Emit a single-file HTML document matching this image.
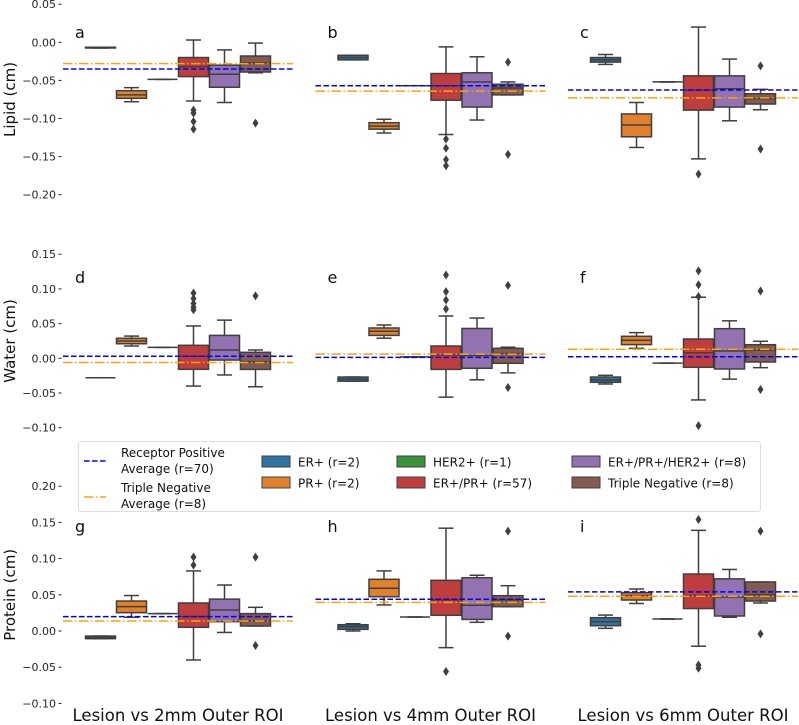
<!DOCTYPE html>
<html><head><meta charset="utf-8"><style>
html,body{margin:0;padding:0;background:#fff;}
svg{display:block;font-family:"DejaVu Sans","Liberation Sans",sans-serif;}
</style></head><body>
<svg id="chart" width="799" height="725" viewBox="0 0 799 725" xmlns="http://www.w3.org/2000/svg"></svg>
<script>
// ---- data ----
const groups = ["Lesion vs 2mm Outer ROI","Lesion vs 4mm Outer ROI","Lesion vs 6mm Outer ROI"];
const hues = ["ER+ (r=2)","PR+ (r=2)","HER2+ (r=1)","ER+/PR+ (r=57)","ER+/PR+/HER2+ (r=8)","Triple Negative (r=8)"];
const hueColors = ["#3274a1","#e1812c","#3a923a","#c03d3e","#9372b2","#845b53"];
const rowTitles = ["Lipid (cm)","Water (cm)","Protein (cm)"];
const panelLetters = [["a","b","c"],["d","e","f"],["g","h","i"]];
const lipidTicks = [0.05,0.00,-0.05,-0.10,-0.15,-0.20];
const waterTicks = [0.15,0.10,0.05,0.00,-0.05,-0.10];
const proteinTicks = [0.20,0.15,0.10,0.05,0.00,-0.05,-0.10];
// each box: [lowWhisker, q1, median, q3, highWhisker]
const statsA = [[-0.0075,-0.0075,-0.007,-0.0065,-0.0065],[-0.078,-0.0735,-0.069,-0.0635,-0.0595],[-0.0486,-0.0486,-0.0486,-0.0486,-0.0486],[-0.077,-0.045,-0.032,-0.020,0.003],[-0.079,-0.059,-0.042,-0.030,-0.010],[-0.040,-0.039,-0.027,-0.018,-0.001]];
const statsB = [[-0.023,-0.023,-0.020,-0.017,-0.017],[-0.119,-0.114,-0.110,-0.1055,-0.101],[-0.057,-0.057,-0.057,-0.057,-0.057],[-0.121,-0.076,-0.057,-0.041,-0.006],[-0.102,-0.085,-0.052,-0.040,-0.019],[-0.069,-0.069,-0.060,-0.055,-0.052]];
const statsC = [[-0.029,-0.026,-0.023,-0.020,-0.016],[-0.138,-0.124,-0.1085,-0.094,-0.079],[-0.052,-0.052,-0.052,-0.052,-0.052],[-0.153,-0.089,-0.0626,-0.044,0.020],[-0.103,-0.085,-0.061,-0.044,-0.022],[-0.0885,-0.081,-0.074,-0.0675,-0.0617]];
const statsD = [[-0.028,-0.028,-0.028,-0.028,-0.028],[0.0177,0.021,0.025,0.0288,0.032],[0.0158,0.0158,0.0158,0.0158,0.0158],[-0.040,-0.0159,0.003,0.0187,0.0466],[-0.024,-0.0025,0.012,0.033,0.055],[-0.041,-0.016,-0.005,0.0086,0.012]];
const statsE = [[-0.033,-0.033,-0.030,-0.027,-0.027],[0.029,0.033,0.039,0.0437,0.048],[0.002,0.002,0.002,0.002,0.002],[-0.056,-0.016,0.005,0.0177,0.061],[-0.031,-0.0144,0.004,0.043,0.058],[-0.021,-0.0072,0.007,0.0144,0.016]];
const statsF = [[-0.037,-0.0346,-0.031,-0.027,-0.0245],[0.0144,0.0197,0.026,0.0317,0.037],[-0.007,-0.007,-0.007,-0.007,-0.007],[-0.060,-0.013,0.008,0.0278,0.088],[-0.030,-0.0154,0.0105,0.0427,0.054],[-0.0135,-0.0053,0.012,0.0196,0.0245]];
const statsG = [[-0.0106,-0.0106,-0.009,-0.007,-0.007],[0.019,0.0253,0.0336,0.0414,0.049],[0.024,0.024,0.024,0.024,0.024],[-0.040,0.0051,0.020,0.0387,0.083],[-0.002,0.0129,0.029,0.044,0.0635],[0.0069,0.0069,0.014,0.024,0.0327]];
const statsH = [[0.0,0.0023,0.006,0.0087,0.010],[0.036,0.0474,0.059,0.0714,0.083],[0.0193,0.0193,0.0193,0.0193,0.0193],[-0.023,0.0217,0.043,0.070,0.142],[0.012,0.016,0.0355,0.0736,0.077],[0.0336,0.0336,0.043,0.0488,0.0626]];
const statsI = [[0.0037,0.0073,0.0129,0.0184,0.022],[0.038,0.0428,0.049,0.053,0.058],[0.0166,0.0166,0.0166,0.0166,0.0166],[-0.021,0.031,0.049,0.0787,0.139],[0.019,0.0207,0.047,0.072,0.085],[0.0387,0.0414,0.050,0.0677,0.0677]];
const outA = [[],[],[],[-0.089,-0.093,-0.104,-0.114],[],[-0.106]];
const outB = [[],[],[],[-0.127,-0.139,-0.154,-0.162],[],[-0.026,-0.147]];
const outC = [[],[],[],[-0.173],[],[-0.031,-0.140]];
const outD = [[],[],[],[0.094,0.086,0.079,0.074,0.070],[],[0.090]];
const outE = [[],[],[],[0.120,0.096,0.084,0.071],[],[0.105,-0.042]];
const outF = [[],[],[],[0.126,0.106,0.089,-0.097],[],[0.097,-0.045]];
const outG = [[],[],[],[0.102,0.091],[],[0.102,-0.020]];
const outH = [[],[],[],[-0.056],[],[0.138,-0.007]];
const outI = [[],[],[],[0.154,-0.047,-0.0515],[],[0.138,-0.004]];
const rpAvg = [[-0.035,-0.057,-0.0626],[0.003,0.0014,0.0023],[0.0198,0.0438,0.054]];
const tnAvg = [[-0.028,-0.064,-0.073],[-0.006,0.006,0.013],[0.0138,0.0396,0.048]];

// ---- layout ----
const rowStats = [[statsA,statsB,statsC],[statsD,statsE,statsF],[statsG,statsH,statsI]];
const rowOut = [[outA,outB,outC],[outD,outE,outF],[outG,outH,outI]];
const rowTicks = [lipidTicks,waterTicks,proteinTicks];
const rowY = [{zero:42.3,k:762},{zero:358.3,k:694},{zero:631,k:724}];
const letterBaseline = [38,283,532];
function yScale(r,v){return rowY[r].zero - v*rowY[r].k;}
function groupX(g){return 178 + g*252.5;}
function hueX(g,h){return groupX(g) + (h-2.5)*31;}
const BW = 30, LINE="#3f3f3f";
const svg = document.getElementById('chart');
const NS="http://www.w3.org/2000/svg";
function mk(tag,attrs,parent){const e=document.createElementNS(NS,tag);for(const k in attrs)e.setAttribute(k,attrs[k]);(parent||svg).appendChild(e);return e;}

for(let r=0;r<3;r++){
  const row = mk('g',{});
  
  
  rowTicks[r].forEach(t=>{
    const y=yScale(r,t);
    const tx=mk('text',{x:56,y:y+4,'text-anchor':'end','font-size':11,fill:'#262626'},row);
    tx.textContent=(t<0?'\u2212':'')+Math.abs(t).toFixed(2);
    
    
    mk('line',{x1:58.5,x2:61.5,y1:y,y2:y,stroke:'#262626','stroke-width':1},row);
  });
  const ticks=rowTicks[r];
  const midY=(yScale(r,ticks[0])+yScale(r,ticks[ticks.length-1]))/2;
  const yt=mk('text',{x:0,y:0,transform:`translate(15,${midY}) rotate(-90)`,'text-anchor':'middle','font-size':15,fill:'#111'},row);
  yt.textContent=rowTitles[r];
  
  
  for(let g=0;g<3;g++){
    const panel=mk('g',{},row);
    
    
    const lt=mk('text',{x:groupX(g)-103,y:letterBaseline[r],'font-size':16,fill:'#111'},panel);
    lt.textContent=panelLetters[r][g];
    
    
    const st=rowStats[r][g], ou=rowOut[r][g];
    for(let h=0;h<6;h++){
      const [lo,q1,md,q3,hi]=st[h];
      const cx=hueX(g,h);
      const bx=mk('g',{},panel);
      
      
      mk('line',{x1:cx,x2:cx,y1:yScale(r,hi),y2:yScale(r,q3),stroke:LINE,'stroke-width':1.5},bx);
      mk('line',{x1:cx,x2:cx,y1:yScale(r,q1),y2:yScale(r,lo),stroke:LINE,'stroke-width':1.5},bx);
      mk('line',{x1:cx-7.5,x2:cx+7.5,y1:yScale(r,hi),y2:yScale(r,hi),stroke:LINE,'stroke-width':1.5},bx);
      mk('line',{x1:cx-7.5,x2:cx+7.5,y1:yScale(r,lo),y2:yScale(r,lo),stroke:LINE,'stroke-width':1.5},bx);
      const yt3=yScale(r,q3), yb=yScale(r,q1);
      mk('rect',{x:cx-BW/2,y:yt3,width:BW,height:Math.max(0,yb-yt3),fill:hueColors[h],stroke:LINE,'stroke-width':1.5},bx);
      mk('line',{x1:cx-BW/2,x2:cx+BW/2,y1:yScale(r,md),y2:yScale(r,md),stroke:LINE,'stroke-width':1.5},bx);
      ou[h].forEach(v=>{
        const y=yScale(r,v);
        const d=mk('path',{d:`M${cx} ${y-4.5}L${cx+3} ${y}L${cx} ${y+4.5}L${cx-3} ${y}Z`,fill:LINE},bx);
        
        
      });
    }
    const rp=mk('line',{x1:groupX(g)-115,x2:groupX(g)+115,y1:yScale(r,rpAvg[r][g]),y2:yScale(r,rpAvg[r][g]),stroke:'#0000ff','stroke-width':1.5,'stroke-dasharray':'5.5,2.5'},panel);
    
    
    const tn=mk('line',{x1:groupX(g)-115,x2:groupX(g)+115,y1:yScale(r,tnAvg[r][g]),y2:yScale(r,tnAvg[r][g]),stroke:'#ffa500','stroke-width':1.5,'stroke-dasharray':'9.5,2.5,1.5,2.5'},panel);
    
    
  }
}
groups.forEach((gname,g)=>{
  const t=mk('text',{x:groupX(g),y:721,'text-anchor':'middle','font-size':16.5,fill:'#111'});
  t.textContent=gname;
  
  
});
const lg=mk('g',{});


mk('rect',{x:78.5,y:441.5,width:682,height:70,rx:3,fill:'#fff',stroke:'#dddddd','stroke-width':1},lg);
mk('line',{x1:84,x2:106,y1:461,y2:461,stroke:'#0000ff','stroke-width':1.5,'stroke-dasharray':'5.5,2.5'},lg);
mk('line',{x1:84,x2:106,y1:497,y2:497,stroke:'#ffa500','stroke-width':1.5,'stroke-dasharray':'9.5,2.5,1.5,2.5'},lg);
const legTexts=[["Receptor Positive",121,457],["Average (r=70)",121,473],["Triple Negative",121,492],["Average (r=8)",121,508]];
legTexts.forEach(([s,x,y])=>{const t=mk('text',{x:x,y:y,'font-size':12,fill:'#111'},lg);t.textContent=s;
  
  });
const legCols=[262,397,572];
hues.forEach((hname,h)=>{
  const col=Math.floor(h/2), rowi=h%2;
  const x=legCols[col], y=rowi?483:462;
  const e=mk('g',{},lg);
  
  
  mk('rect',{x:x,y:y-6,width:28,height:11,fill:hueColors[h],stroke:LINE,'stroke-width':1},e);
  const t=mk('text',{x:x+36,y:y+4.5,'font-size':12,fill:'#111'},e);t.textContent=hname;
});
</script>
</body></html>
